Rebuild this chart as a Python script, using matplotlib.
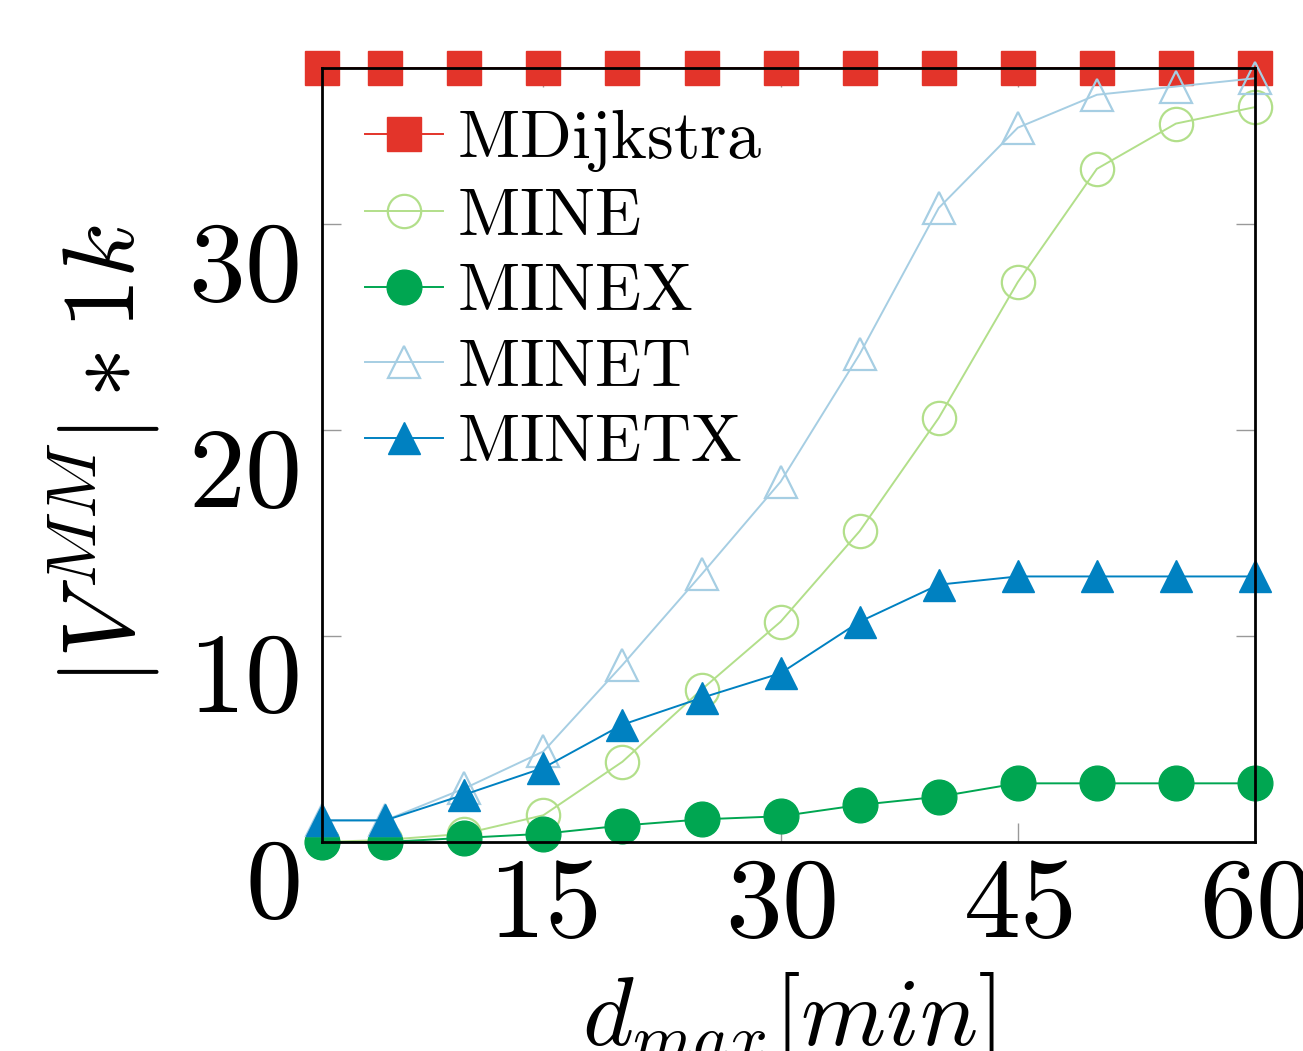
import matplotlib
matplotlib.use("Agg")
import matplotlib.pyplot as plt
from matplotlib.transforms import ScaledTranslation

plt.rcParams['mathtext.fontset'] = 'cm'
plt.rcParams['font.family'] = ['DejaVu Serif']

# data (values in thousands)
d_max = [1, 5, 10, 15, 20, 25, 30, 35, 40, 45, 50, 55, 60]
mdijkstra = [37.6] * 13
mine = [0.0, 0.1, 0.4, 1.3, 3.9, 7.4, 10.7, 15.1, 20.6, 27.2, 32.7, 34.9, 35.7]
minex = [0.0, 0.0, 0.2, 0.4, 0.8, 1.1, 1.25, 1.8, 2.2, 2.85, 2.85, 2.85, 2.85]
minet = [1.05, 1.05, 2.6, 4.4, 8.6, 13.0, 17.5, 23.7, 30.8, 34.7, 36.3, 36.7, 37.1]
minetx = [1.05, 1.05, 2.3, 3.6, 5.7, 7.0, 8.2, 10.7, 12.5, 12.9, 12.9, 12.9, 12.9]

x_ticks = [15, 30, 45, 60]
y_ticks = [0, 10, 20, 30]

fig = plt.figure(figsize=(13.03, 10.51), dpi=100)
ax = fig.add_axes([322/1303, 1 - 842/1051, 933/1303, 774/1051])

lw = 1.4
ax.plot(d_max, mdijkstra, color='#e3342a', marker='s', ms=25, lw=lw, clip_on=False,
        label=r'$\mathrm{MDijkstra}$')
ax.plot(d_max, mine, color='#b2df8a', marker='o', ms=24, mfc='none', mew=1.6, lw=lw,
        clip_on=False, label=r'$\mathrm{MINE}$')
ax.plot(d_max, minex, color='#00a651', marker='o', ms=25, lw=lw, clip_on=False,
        label=r'$\mathrm{MINEX}$')
ax.plot(d_max, minet, color='#a6cee3', marker='^', ms=23, mfc='none', mew=1.6, lw=lw,
        clip_on=False, label=r'$\mathrm{MINET}$')
ax.plot(d_max, minetx, color='#0081c1', marker='^', ms=23, lw=lw, clip_on=False,
        label=r'$\mathrm{MINETX}$')

ax.set_xlim(1, 60)
ax.set_ylim(0, 37.6)
ax.set_xticks(x_ticks)
ax.set_xticklabels(['$%d$' % t for t in x_ticks])
ax.set_yticks(y_ticks)
ax.set_yticklabels(['$%d$' % t for t in y_ticks])

for s in ax.spines.values():
    s.set_linewidth(2)
ax.tick_params(direction='in', length=14, width=1, color='#999999',
               top=True, right=True, labelsize=82)
ax.tick_params(axis='y', pad=16)
ax.tick_params(axis='x', pad=6)

# pgfplots puts y tick labels a bit below the tick
for lab in ax.get_yticklabels():
    lab.set_transform(lab.get_transform() + ScaledTranslation(0, -0.33, fig.dpi_scale_trans))

ax.set_ylabel(r'$|V^{MM}| \ast 1k$', fontsize=73)
ax.yaxis.set_label_coords(-0.172, 0.5)
ax.set_xlabel(r'$d_{max}[min]$', fontsize=70)
ax.xaxis.set_label_coords(0.5, -0.165)

ax.legend(loc='upper left', frameon=False, fontsize=49, handlelength=1.15,
          handletextpad=0.2, labelspacing=0.15, borderaxespad=0.3,
          bbox_to_anchor=(-0.005, 1.012))

fig.savefig('out.png', dpi=100)
